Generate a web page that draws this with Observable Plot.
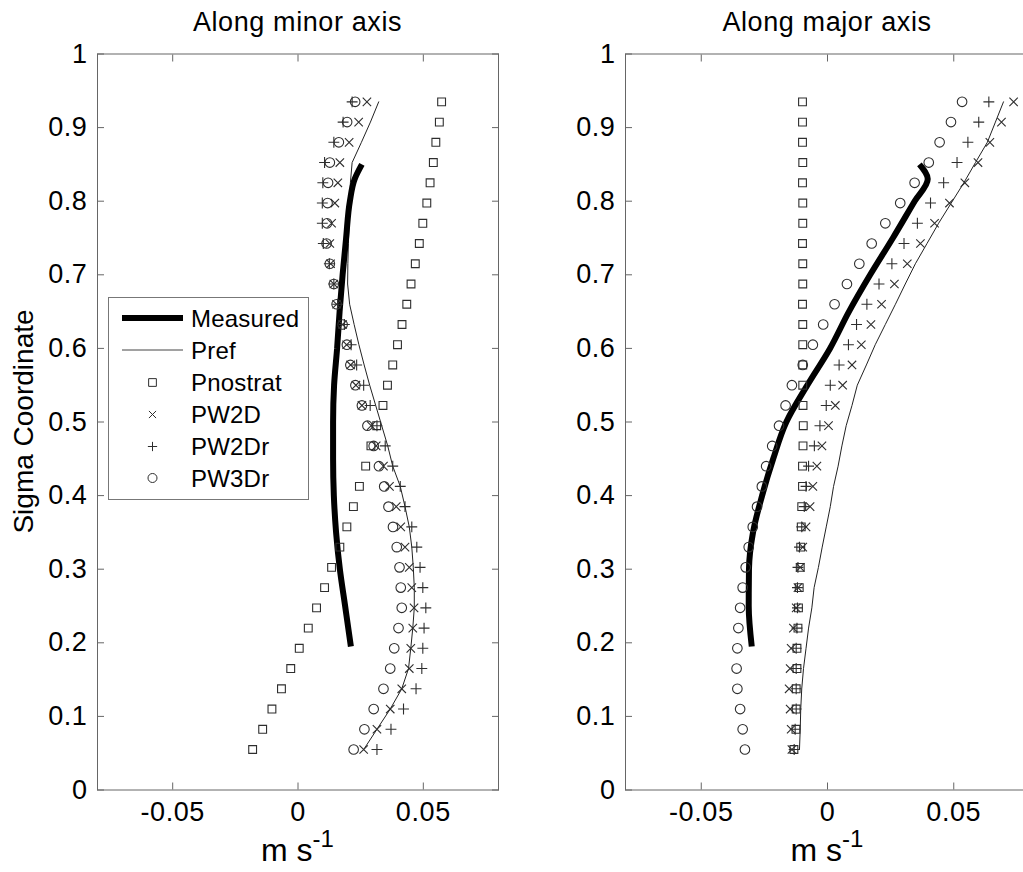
<!DOCTYPE html>
<html><head><meta charset="utf-8">
<script src="https://cdn.jsdelivr.net/npm/d3@7"></script>
<script src="https://cdn.jsdelivr.net/npm/@observablehq/plot@0.6"></script>
<style>
html,body{margin:0;padding:0;background:#fff;overflow:hidden;}
#wrap{position:relative;width:1023px;height:872px;overflow:hidden;font-family:"Liberation Sans",Arial,sans-serif;}
.panel{position:absolute;top:0;}
.panel svg{max-width:none !important;}
#overlay{position:absolute;left:0;top:0;pointer-events:none;}
</style>
</head><body><div id="wrap"></div>
<script>
// ---- data (sigma levels bottom to top) ----
const sigma = [0.055,0.0825,0.11,0.1375,0.165,0.1925,0.22,0.2475,0.275,0.3025,0.33,0.3575,0.385,0.4125,0.44,0.4675,0.495,0.5225,0.55,0.5775,0.605,0.6325,0.66,0.6875,0.715,0.7425,0.77,0.7975,0.825,0.8525,0.88,0.9075,0.935];

const minorPnostrat = [-0.0181,-0.0141,-0.0104,-0.0066,-0.0029,0.0005,0.0041,0.0074,0.0106,0.0134,0.0167,0.0195,0.0221,0.0245,0.0270,0.0291,0.0314,0.0339,0.0357,0.0378,0.0397,0.0415,0.0434,0.0451,0.0468,0.0484,0.0498,0.0514,0.0527,0.0540,0.0550,0.0564,0.0573];
const minorPW2D = [0.0262,0.0315,0.0368,0.0414,0.0444,0.0450,0.0458,0.0463,0.0454,0.0444,0.0427,0.0410,0.0392,0.0365,0.0341,0.0312,0.0292,0.0255,0.0231,0.0210,0.0194,0.0178,0.0154,0.0143,0.0130,0.0127,0.0134,0.0147,0.0159,0.0167,0.0204,0.0242,0.0275];
const minorPW2Dr = [0.0315,0.0371,0.0421,0.0471,0.0494,0.0498,0.0503,0.0510,0.0498,0.0487,0.0474,0.0454,0.0427,0.0408,0.0378,0.0348,0.0315,0.0288,0.0262,0.0234,0.0212,0.0185,0.0158,0.0143,0.0125,0.0101,0.0097,0.0097,0.0099,0.0106,0.0143,0.0180,0.0216];
const minorPW3Dr = [0.0222,0.0265,0.0302,0.0341,0.0368,0.0384,0.0401,0.0414,0.0410,0.0405,0.0394,0.0379,0.0361,0.0344,0.0323,0.0302,0.0277,0.0255,0.0229,0.0209,0.0195,0.0178,0.0154,0.0143,0.0127,0.0114,0.0116,0.0118,0.0120,0.0127,0.0163,0.0196,0.0228];
const minorPref = [0.0262,0.0315,0.0368,0.0414,0.0441,0.0450,0.0458,0.0464,0.0464,0.0460,0.0454,0.0444,0.0427,0.0408,0.0378,0.0358,0.0334,0.0310,0.0286,0.0264,0.0243,0.0224,0.0206,0.0198,0.0199,0.0201,0.0204,0.0206,0.0209,0.0216,0.0253,0.0289,0.0322];

const majorPnostrat = [-0.0133,-0.0125,-0.0124,-0.0124,-0.0121,-0.0121,-0.0117,-0.0115,-0.0112,-0.0108,-0.0106,-0.0104,-0.0102,-0.0099,-0.0099,-0.0097,-0.0096,-0.0097,-0.0098,-0.0098,-0.0098,-0.0098,-0.0099,-0.0098,-0.0098,-0.0099,-0.0098,-0.0098,-0.0099,-0.0098,-0.0099,-0.0099,-0.0099];
const majorPW2D = [-0.0141,-0.0144,-0.0148,-0.0152,-0.0148,-0.0144,-0.0135,-0.0124,-0.0117,-0.0108,-0.0098,-0.0085,-0.0069,-0.0058,-0.0042,-0.0022,0.0004,0.0031,0.0060,0.0097,0.0134,0.0172,0.0214,0.0265,0.0316,0.0368,0.0424,0.0483,0.0544,0.0596,0.0643,0.0689,0.0737];
const majorPW2Dr = [-0.0132,-0.0128,-0.0124,-0.0124,-0.0124,-0.0124,-0.0121,-0.0119,-0.0119,-0.0117,-0.0111,-0.0102,-0.0092,-0.0085,-0.0075,-0.0052,-0.0030,-0.0005,0.0011,0.0046,0.0083,0.0115,0.0156,0.0204,0.0255,0.0303,0.0356,0.0408,0.0460,0.0513,0.0556,0.0599,0.0639];
const majorPW3Dr = [-0.0327,-0.0336,-0.0346,-0.0357,-0.0360,-0.0357,-0.0353,-0.0346,-0.0336,-0.0324,-0.0312,-0.0296,-0.0279,-0.0260,-0.0243,-0.0219,-0.0192,-0.0166,-0.0141,-0.0098,-0.0058,-0.0017,0.0028,0.0077,0.0126,0.0175,0.0229,0.0288,0.0345,0.0401,0.0444,0.0489,0.0533];
const majorPref = [-0.0111,-0.0108,-0.0106,-0.0102,-0.0095,-0.0085,-0.0075,-0.0062,-0.0053,-0.0036,-0.0021,-0.0005,0.0011,0.0024,0.0042,0.0057,0.0074,0.0097,0.0118,0.0154,0.0189,0.0229,0.0269,0.0308,0.0348,0.0394,0.0440,0.0490,0.0540,0.0586,0.0633,0.0665,0.0697];

const measuredSigma = [0.195,0.25,0.30,0.35,0.40,0.45,0.50,0.55,0.60,0.65,0.70,0.75,0.80,0.83,0.85];
const minorMeasured = [0.0211,0.0188,0.0167,0.0152,0.0143,0.0140,0.0140,0.0144,0.0156,0.0166,0.0178,0.0192,0.0207,0.0226,0.0255];
const majorMeasured = [-0.0300,-0.0312,-0.0311,-0.0295,-0.0259,-0.0215,-0.0163,-0.0080,0.0010,0.0085,0.0169,0.0259,0.0345,0.0397,0.0364];

const xTicks = [-0.05, 0, 0.05];
const yTicks = [0, 0.1, 0.2, 0.3, 0.4, 0.5, 0.6, 0.7, 0.8, 0.9, 1];
const xDomain = [-0.08, 0.08];
const yDomain = [0, 1];
const panelTitles = ["Along minor axis", "Along major axis"];
const yLabel = "Sigma Coordinate";
const legendNames = ["Measured", "Pref", "Pnostrat", "PW2D", "PW2Dr", "PW3Dr"];

// ---- build tables ----
function makeTable(pn, w2d, w2dr, w3dr, pref) {
  return sigma.map((s, i) => ({sigma: s, pnostrat: pn[i], pw2d: w2d[i], pw2dr: w2dr[i], pw3dr: w3dr[i], pref: pref[i]}));
}
function makeMeasured(vals) { return measuredSigma.map((s, i) => ({sigma: s, v: vals[i]})); }

const FONT = "'Liberation Sans', Arial, Helvetica, sans-serif";
const MARK = "#2e2e2e";
const AXIS = "#666";
const TICKFONT = 27;

function panel(table, measured, width, marginRight) {
  return Plot.plot({
    width, height: 872,
    marginTop: 53.5, marginBottom: 82.5, marginLeft: 97, marginRight,
    style: {fontFamily: FONT, fontSize: TICKFONT + "px", color: "#000", background: "transparent", overflow: "visible", letterSpacing: "0.6px"},
    x: {domain: xDomain},
    y: {domain: yDomain},
    marks: [
      Plot.line(table, {x: "pref", y: "sigma", stroke: "#222", strokeWidth: 1}),
      Plot.line(measured, {x: "v", y: "sigma", stroke: "#000", strokeWidth: 6, curve: "monotone-y", strokeLinecap: "butt", strokeLinejoin: "miter"}),
      Plot.dot(table, {x: "pnostrat", y: "sigma", symbol: "square", r: 4.4, stroke: MARK, strokeWidth: 1.1}),
      Plot.dot(table, {x: "pw2d", y: "sigma", symbol: "times", r: 3.9, stroke: MARK, strokeWidth: 1.1}),
      Plot.dot(table, {x: "pw2dr", y: "sigma", symbol: "plus", r: 3.6, stroke: MARK, strokeWidth: 1.1}),
      Plot.dot(table, {x: "pw3dr", y: "sigma", symbol: "circle", r: 4.8, stroke: MARK, strokeWidth: 1.1}),
      Plot.frame({stroke: AXIS, strokeWidth: 1}),
      Plot.axisX({anchor: "bottom", ticks: xTicks, tickSize: -7, tickPadding: 19, tickFormat: d => String(d), label: null, stroke: AXIS, fill: "#000", fontSize: TICKFONT}),
      Plot.axisX({anchor: "top", ticks: xTicks, tickSize: -7, tickFormat: () => "", label: null, stroke: AXIS}),
      Plot.axisY({anchor: "left", ticks: yTicks, tickSize: -7, tickPadding: 17, tickFormat: d => String(d), label: null, stroke: AXIS, fill: "#000", fontSize: TICKFONT}),
      Plot.axisY({anchor: "right", ticks: yTicks, tickSize: -7, tickFormat: () => "", label: null, stroke: AXIS})
    ]
  });
}

const wrap = document.getElementById("wrap");
const specs = [
  {left: 0, width: 520, mr: 22, table: makeTable(minorPnostrat, minorPW2D, minorPW2Dr, minorPW3Dr, minorPref), meas: makeMeasured(minorMeasured)},
  {left: 528, width: 510, mr: 9, table: makeTable(majorPnostrat, majorPW2D, majorPW2Dr, majorPW3Dr, majorPref), meas: makeMeasured(majorMeasured)}
];
specs.forEach(s => {
  const d = document.createElement("div");
  d.className = "panel";
  d.style.left = s.left + "px";
  d.style.width = s.width + "px";
  d.appendChild(panel(s.table, s.meas, s.width, s.mr));
  wrap.appendChild(d);
});

// ---- overlay: titles, axis labels, legend ----
const svg = d3.select(wrap).append("svg").attr("id", "overlay").attr("width", 1023).attr("height", 872)
  .style("font-family", FONT);
const centers = [297.5, 827];
centers.forEach((cx, i) => {
  svg.append("text").attr("x", cx).attr("y", 31).attr("text-anchor", "middle")
    .attr("font-size", 27).attr("letter-spacing", 0.6).text(panelTitles[i]);
  const t = svg.append("text").attr("x", cx).attr("y", 861).attr("text-anchor", "middle").attr("font-size", 32);
  t.append("tspan").text("m s");
  t.append("tspan").attr("dy", -14).attr("font-size", 24).text("-1");
});
svg.append("text").attr("transform", "translate(33,421.5) rotate(-90)").attr("text-anchor", "middle")
  .attr("font-size", 28).text(yLabel);

// legend
const lg = svg.append("g").attr("transform", "translate(108,297)");
lg.append("rect").attr("x", 0.5).attr("y", 0.5).attr("width", 200).attr("height", 202)
  .attr("fill", "#fff").attr("stroke", "#777");
const rowY = [21, 53, 85.5, 117.5, 149.5, 181];
lg.append("line").attr("x1", 14).attr("x2", 75).attr("y1", rowY[0]).attr("y2", rowY[0]).attr("stroke", "#000").attr("stroke-width", 6);
lg.append("line").attr("x1", 14).attr("x2", 75).attr("y1", rowY[1]).attr("y2", rowY[1]).attr("stroke", "#444").attr("stroke-width", 1);
const legSyms = [[d3.symbolSquare, 60], [d3.symbolTimes, 35], [d3.symbolPlus, 30], [d3.symbolCircle, 64]];
legSyms.forEach(([sym, size], i) => {
  lg.append("path").attr("transform", `translate(44.5,${rowY[i + 2]})`)
    .attr("d", d3.symbol(sym, size)()).attr("fill", "none").attr("stroke", MARK).attr("stroke-width", 1);
});
legendNames.forEach((n, i) => {
  lg.append("text").attr("x", 83).attr("y", rowY[i] + 8.5).attr("font-size", 24).attr("letter-spacing", 0.2).text(n);
});
</script></body></html>
